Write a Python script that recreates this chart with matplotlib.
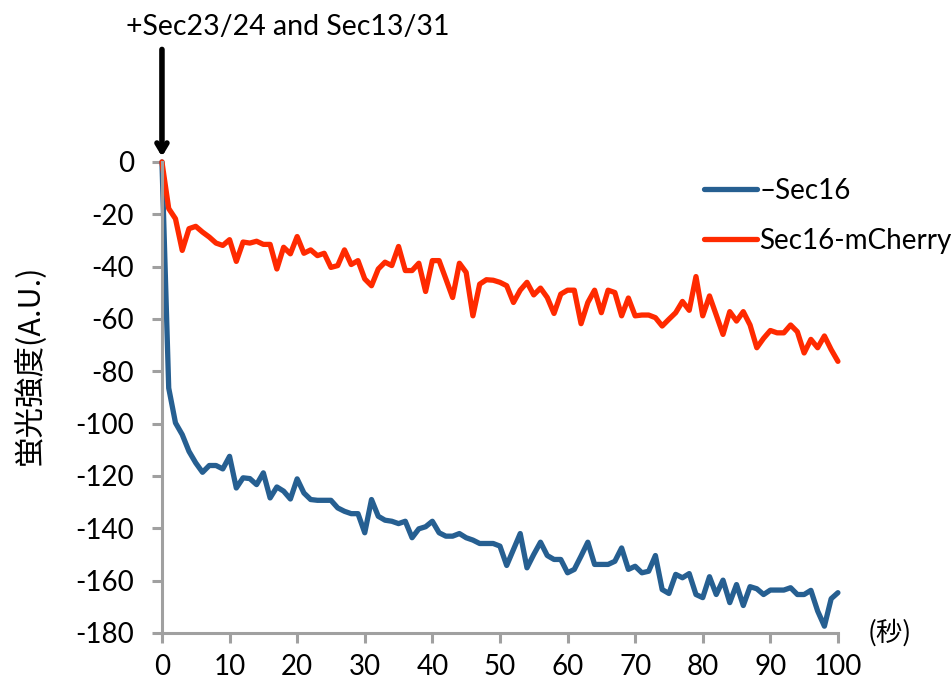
import numpy as np
import matplotlib
matplotlib.use("Agg")
import matplotlib.pyplot as plt

plt.rcParams['font.family'] = ['Lato', 'Noto Sans CJK JP', 'DejaVu Sans']
plt.rcParams['axes.unicode_minus'] = False

# time in seconds, one reading per second
t = np.arange(0, 101)

# fluorescence change without Sec16
no_sec16 = [
    0, -86.4, -99.7, -104.2, -110.6, -115, -118.6, -116, -116, -117.3,
    -112.5, -124.6, -120.7, -121, -123.3, -118.8, -128.4, -124.2, -125.8, -128.8,
    -121.1, -126.5, -129, -129.3, -129.3, -129.3, -132.2, -133.5, -134.4, -134.4,
    -141.7, -129, -135.4, -136.9, -137.3, -138.2, -137.3, -143.6, -140.2, -139.4,
    -137.3, -141.7, -143, -143, -142, -143.6, -144.5, -145.8, -145.8, -145.8,
    -146.8, -154.2, -148.1, -142, -155.1, -150, -145.3, -150.4, -151.9, -151.9,
    -157, -155.7, -150.6, -145.3, -153.8, -153.8, -153.8, -152.6, -147.5, -155.7,
    -154.5, -157, -156.4, -150.4, -163.4, -164.9, -157.6, -158.9, -157.3, -165.3,
    -166.5, -158.5, -165.3, -159.8, -168.4, -161.5, -169.5, -162.3, -163.1, -165.3,
    -163.6, -163.6, -163.6, -162.7, -165.3, -165.3, -163.7, -171.6, -177.4, -166.9,
    -164.6,
]

# fluorescence change with Sec16-mCherry
sec16_mcherry = [
    0, -17.8, -21.7, -33.8, -25.5, -24.6, -26.8, -28.7, -31, -31.9,
    -29.7, -38, -30.6, -31, -30.3, -31.5, -31.5, -40.9, -32.6, -35.1,
    -28.5, -34.9, -33.6, -35.8, -34.9, -40.3, -39.6, -33.6, -39.2, -37.7,
    -44.7, -47.3, -40.9, -38.3, -39.6, -32.3, -41.5, -41.5, -38.7, -49.5,
    -37.7, -37.7, -44.7, -51.8, -38.7, -42.2, -58.8, -46.7, -45, -45.2,
    -46, -47.3, -53.7, -49, -46, -50.8, -48.2, -51.8, -57.9, -50.5,
    -49, -49, -61.8, -53.7, -49, -57.6, -49, -49.9, -58.8, -52,
    -58.8, -58.5, -58.5, -59.5, -62.7, -60.1, -57.6, -53.3, -56.7, -43.8,
    -58.8, -51.2, -58.5, -65.9, -57.2, -60.8, -57.2, -62.3, -71, -67.4,
    -64.4, -65.3, -65.3, -62.3, -64.9, -73, -67.8, -71, -66.5, -71.7,
    -76.2,
]

x_ticks = list(range(0, 101, 10))
y_ticks = list(range(-180, 1, 20))

fig = plt.figure(figsize=(9.51, 6.93), dpi=100)
ax = fig.add_axes([0.1703, 0.0866, 0.7108, 0.6797])

ax.plot(t, no_sec16, color='#265F91', lw=3.8, solid_joinstyle='round',
        solid_capstyle='round', label='\u2013Sec16', clip_on=False)
ax.plot(t, sec16_mcherry, color='#FF2A00', lw=3.8, solid_joinstyle='round',
        solid_capstyle='round', label='Sec16-mCherry', clip_on=False)

ax.set_xlim(0, 100)
ax.set_ylim(-180, 0)
ax.set_xticks(x_ticks)
ax.set_yticks(y_ticks)
ax.tick_params(axis='both', labelsize=20, color='#A0A0A0', width=2.2,
               length=7, direction='out')
ax.tick_params(axis='y', pad=13)
ax.tick_params(axis='x', pad=8)

for side in ['top', 'right']:
    ax.spines[side].set_visible(False)
for side in ['left', 'bottom']:
    ax.spines[side].set_color('#A0A0A0')
    ax.spines[side].set_linewidth(2.2)

ax.set_ylabel('蛍光強度(A.U.)', fontsize=22, family=['Noto Sans CJK JP', 'DejaVu Sans'])
ax.yaxis.set_label_coords(-0.172, 0.57)
fig.text(868 / 951, 1 - 633 / 693, '(秒)', fontsize=19, va='center', ha='left',
         family=['Noto Sans CJK JP', 'DejaVu Sans'])

# addition marker at t = 0
ax.annotate('', xy=(0, 2), xytext=(0, 43), xycoords='data',
            arrowprops=dict(arrowstyle='->, head_length=0.6, head_width=0.36',
                            color='black', lw=4, shrinkA=0, shrinkB=0),
            annotation_clip=False)
fig.text(288 / 951, 1 - 27 / 693, '+Sec23/24 and Sec13/31', fontsize=20.5,
         ha='center', va='center')

leg = fig.legend(loc='upper left', bbox_to_anchor=(690 / 951, 1 - 164 / 693),
                 frameon=False, fontsize=20, handlelength=1.9, handletextpad=0.1,
                 borderpad=0, labelspacing=0.85)

fig.savefig('out.png', dpi=100)
